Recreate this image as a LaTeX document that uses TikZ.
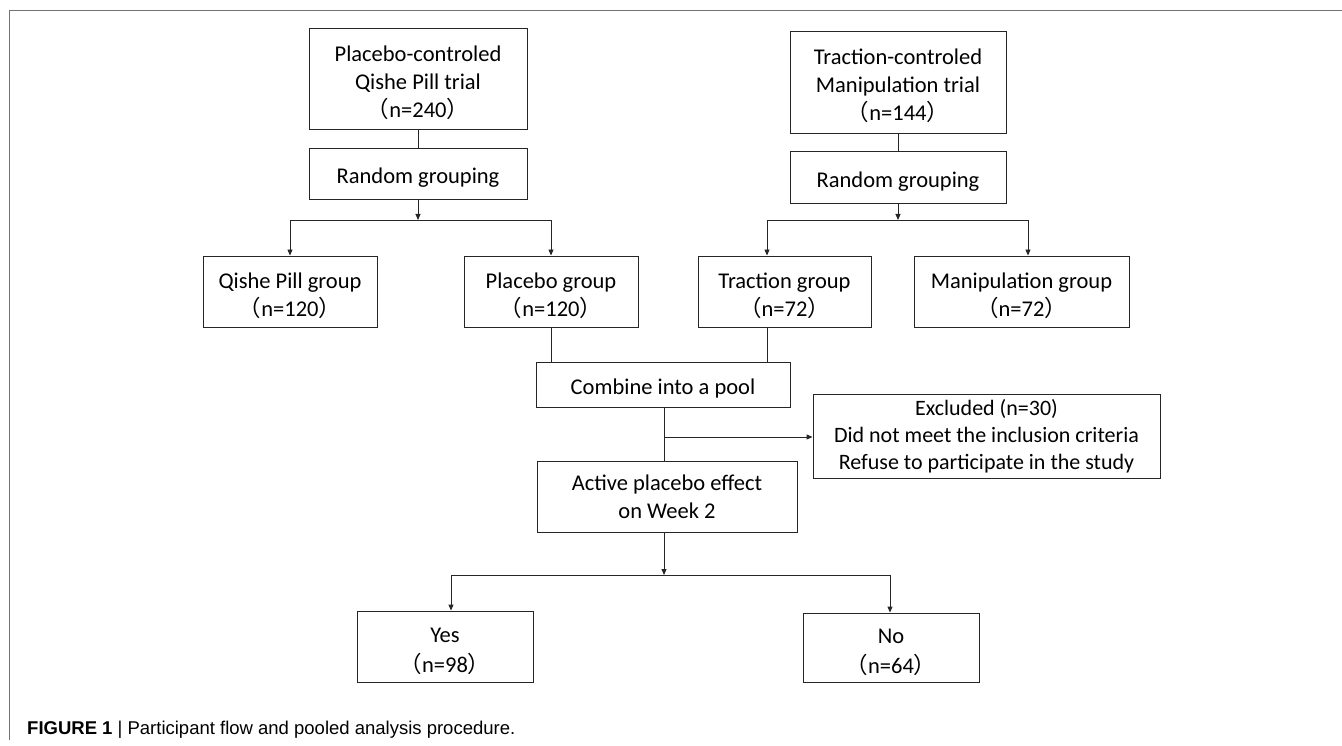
\documentclass[tikz,border=0pt]{standalone}
\usepackage{fontspec}
\setmainfont{Carlito}
\newfontfamily\capfont{Liberation Sans}
\newfontfamily\cjk{Noto Sans CJK SC}
\usetikzlibrary{arrows.meta}
\tikzset{
  box/.style={draw=black!85, line width=0.9pt, align=center, inner sep=0pt,
    font=\fontsize{22.5}{28}\selectfont},
  low/.style={execute at begin node={\rule{0pt}{24.5pt}}},
  conn/.style={draw=black!85, line width=0.9pt},
  arr/.style={conn, -{Triangle[length=6pt,width=5pt]}},
  frame/.style={draw=black!55, line width=0.9pt}
}
\newcommand{\lp}{{\cjk （}}
\newcommand{\rp}{{\cjk ）}}
\newcommand{\tallline}{\rule{0pt}{24pt}}
\begin{document}
\begin{tikzpicture}[x=1pt,y=-1pt]
\useasboundingbox (0,0) rectangle (1342,746);
\draw[frame] (1342,10) -- (9,10) -- (9,740);

\node[box, minimum width=218pt, minimum height=101pt] (b1) at (418,78.5) {\tallline Placebo-controled\\Qishe Pill trial\\\lp n=240\rp};
\node[box, low, minimum width=218pt, minimum height=51pt] (r1) at (418,173.5) {Random grouping};
\node[box, minimum width=216pt, minimum height=102pt] (b2) at (898,82) {\tallline Traction-controled\\Manipulation trial\\\lp n=144\rp};
\node[box, low, minimum width=216pt, minimum height=52pt] (r2) at (898,177) {Random grouping};

\node[box, minimum width=174pt, minimum height=71pt] (qishe) at (290,291.5) {\tallline Qishe Pill group\\\lp n=120\rp};
\node[box, minimum width=174pt, minimum height=71pt] (plac) at (551,291.5) {\tallline Placebo group\\\lp n=120\rp};
\node[box, minimum width=173pt, minimum height=71pt] (trac) at (784.5,291.5) {\tallline Traction group\\\lp n=72\rp};
\node[box, minimum width=215pt, minimum height=71pt] (manip) at (1021.5,291.5) {\tallline Manipulation group\\\lp n=72\rp};

\node[box, low, minimum width=254pt, minimum height=45pt] (comb) at (663,384.5) {Combine into a pool};
\node[box, minimum width=347pt, minimum height=84pt, font=\fontsize{22}{27}\selectfont] (excl) at (986.5,436) {Excluded (n=30)\\Did not meet the inclusion criteria\\Refuse to participate in the study};
\node[box, minimum width=260pt, minimum height=71pt] (active) at (667,496.5) {Active placebo effect\\on Week 2};

\node[box, minimum width=176pt, minimum height=71pt, font=\fontsize{22.5}{29.5}\selectfont] (yes) at (445,646.5) {\tallline Yes\\\lp n=98\rp};
\node[box, minimum width=176pt, minimum height=69pt, font=\fontsize{22.5}{29.5}\selectfont] (no) at (891,647.5) {\tallline No\\\lp n=64\rp};

% left trial
\draw[conn] (b1.south) -- (r1.north);
\coordinate (j1) at (418,220);
\draw[arr] (r1.south) -- (j1);
\draw[conn] (qishe.north |- j1) -- (plac.north |- j1);
\draw[arr] (qishe.north |- j1) -- (qishe.north);
\draw[arr] (plac.north |- j1) -- (plac.north);

% right trial
\draw[conn] (b2.south) -- (r2.north);
\coordinate (j2) at (898,220);
\draw[arr] (r2.south) -- (j2);
\coordinate (ta) at (767,220);
\coordinate (ma) at (1028,220);
\draw[conn] (ta) -- (ma);
\draw[arr] (ta) -- (ta |- trac.north);
\draw[arr] (ma) -- (ma |- manip.north);

% pool
\draw[conn] (plac.south) -- (plac.south |- comb.north);
\draw[conn] (ta |- trac.south) -- (ta |- comb.north);
\coordinate (cx) at (664,437);
\draw[conn] (cx |- comb.south) -- (cx |- active.north);
\draw[arr] (cx) -- (cx -| excl.west);

% outcome
\coordinate (j3) at (664,575);
\draw[arr] (j3 |- active.south) -- (j3);
\coordinate (ya) at (451,575);
\coordinate (na) at (890,575);
\draw[conn] (ya) -- (na);
\draw[arr] (ya) -- (ya |- yes.north);
\draw[arr] (na) -- (na |- no.north);

\node[anchor=west, inner sep=0pt, font=\capfont\fontsize{18.5}{22}\selectfont] (cap) at (27,730) {\textbf{FIGURE 1} | Participant flow and pooled analysis procedure.};
\end{tikzpicture}
\end{document}
